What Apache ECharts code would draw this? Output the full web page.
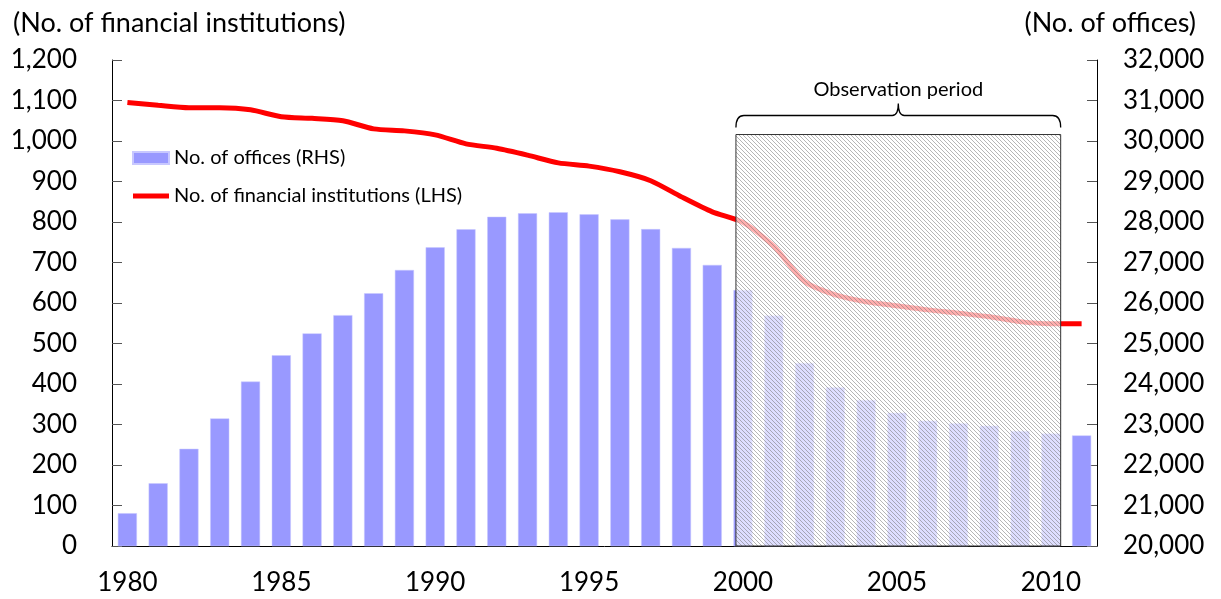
<!DOCTYPE html>
<html>
<head>
<meta charset="utf-8">
<script src="https://cdn.jsdelivr.net/npm/echarts@6/dist/echarts.min.js"></script>
<style>
html,body{margin:0;padding:0;background:#fff;}
#chart{width:1221px;height:599px;}
</style>
</head>
<body>
<div id="chart"></div>
<script>
// ---- data ----
var years = ['1980','1981','1982','1983','1984','1985','1986','1987','1988','1989',
             '1990','1991','1992','1993','1994','1995','1996','1997','1998','1999',
             '2000','2001','2002','2003','2004','2005','2006','2007','2008','2009',
             '2010','2011'];
var offices = [20810, 21550, 22400, 23150, 24060, 24710, 25250, 25700, 26240, 26815,
               27375, 27820, 28130, 28215, 28240, 28190, 28065, 27825, 27360, 26940,
               26320, 25690, 24520, 23920, 23605, 23290, 23095, 23030, 22970, 22840,
               22780, 22730];
var institutions = [1095, 1088, 1082, 1082, 1077, 1060, 1056, 1050, 1030, 1025,
                    1015, 993, 982, 965, 946, 938, 924, 902, 862, 825,
                    799, 740, 653, 620, 603, 593, 583, 575, 566, 554,
                    549, 549];
var leftTicks = {min: 0, max: 1200, interval: 100};
var rightTicks = {min: 20000, max: 32000, interval: 1000};
var observation = [[1999.77, 2010.32, 1016]]; // start, end (year position), top (LHS)
var obsLabel = 'Observation period';

// ---- pattern for hatched overlay ----
function makePattern() {
  var c = document.createElement('canvas');
  c.width = 4; c.height = 4;
  var g = c.getContext('2d');
  g.fillStyle = 'rgba(255,255,255,0.68)';
  g.fillRect(0, 0, 4, 4);
  g.strokeStyle = 'rgba(110,110,110,0.5)';
  g.lineWidth = 1;
  g.beginPath();
  g.moveTo(-1, -1); g.lineTo(5, 5);
  g.moveTo(-1, 3); g.lineTo(1, 5);
  g.moveTo(3, -1); g.lineTo(5, 1);
  g.stroke();
  return c;
}
var pattern = makePattern();

var FONT = 'Lato';
var chart = echarts.init(document.getElementById('chart'), null, {renderer: 'canvas'});
var fmt = function (v) { return Number(v).toLocaleString('en-US'); };

chart.setOption({
  animation: false,
  backgroundColor: '#fff',
  textStyle: {fontFamily: FONT, color: '#000'},
  title: [
    {text: '(No. of financial institutions)', left: 8, top: 5,
     textStyle: {fontFamily: FONT, fontSize: 27, fontWeight: 'normal', color: '#000'}},
    {text: '(No. of offices)', right: 20, top: 5,
     textStyle: {fontFamily: FONT, fontSize: 27, fontWeight: 'normal', color: '#000'}}
  ],
  legend: {
    orient: 'vertical', left: 132, top: 146, padding: 0, itemWidth: 36, itemHeight: 12, itemGap: 14,
    textStyle: {fontFamily: FONT, fontSize: 20, color: '#000', lineHeight: 24},
    data: [
      {name: 'No. of offices (RHS)', icon: 'rect'},
      {name: 'No. of financial institutions (LHS)', icon: 'path://M0,0 L36,0 L36,5 L0,5 Z'}
    ]
  },
  grid: {left: 112, right: 124, top: 60, bottom: 53, containLabel: false},
  xAxis: [
    {
      type: 'category', data: years, boundaryGap: true,
      axisLine: {lineStyle: {color: '#000', width: 1}},
      axisTick: {inside: true, length: 10, interval: 0, lineStyle: {color: '#555'}},
      axisLabel: {interval: 4, margin: 24, fontFamily: FONT, fontSize: 26, color: '#000'},
      splitLine: {show: false}
    },
    {type: 'value', min: 1979.5, max: 2011.5, show: false}
  ],
  yAxis: [
    {
      type: 'value', min: leftTicks.min, max: leftTicks.max, interval: leftTicks.interval,
      axisLine: {show: true, lineStyle: {color: '#000'}},
      axisTick: {show: true, inside: true, length: 10, lineStyle: {color: '#555'}},
      axisLabel: {margin: 35, fontFamily: FONT, fontSize: 26, color: '#000', formatter: fmt},
      splitLine: {show: false}
    },
    {
      type: 'value', min: rightTicks.min, max: rightTicks.max, interval: rightTicks.interval,
      axisLine: {show: true, lineStyle: {color: '#000'}},
      axisTick: {show: true, inside: true, length: 10, lineStyle: {color: '#555'}},
      axisLabel: {margin: 26, fontFamily: FONT, fontSize: 26, color: '#000', formatter: fmt},
      splitLine: {show: false}
    }
  ],
  series: [
    {
      name: 'No. of offices (RHS)', type: 'bar', xAxisIndex: 0, yAxisIndex: 1,
      data: offices, barCategoryGap: '38%',
      itemStyle: {color: '#9999ff', borderColor: '#c8c8ff', borderWidth: 0.5}, z: 2
    },
    {
      name: 'No. of financial institutions (LHS)', type: 'line', xAxisIndex: 0, yAxisIndex: 0,
      data: institutions, symbol: 'none', smooth: 0.25,
      lineStyle: {color: '#ff0000', width: 5}, itemStyle: {color: '#ff0000'}, z: 3
    },
    {
      name: 'obs', type: 'custom', xAxisIndex: 1, yAxisIndex: 0, z: 10,
      data: observation, silent: true,
      renderItem: function (params, api) {
        var p0 = api.coord([api.value(0), api.value(2)]);
        var p1 = api.coord([api.value(1), 0]);
        var x0 = p0[0], x1 = p1[0], yt = p0[1], yb = p1[1];
        var xm = (x0 + x1) / 2;
        var yh = yt - 19, ye = yt - 7, ytip = yt - 31;
        var path = 'M' + x0 + ',' + ye +
          ' Q' + x0 + ',' + yh + ' ' + (x0 + 8) + ',' + yh +
          ' L' + (xm - 6) + ',' + yh +
          ' Q' + xm + ',' + yh + ' ' + xm + ',' + ytip +
          ' Q' + xm + ',' + yh + ' ' + (xm + 6) + ',' + yh +
          ' L' + (x1 - 8) + ',' + yh +
          ' Q' + x1 + ',' + yh + ' ' + x1 + ',' + ye;
        return {
          type: 'group',
          children: [
            {type: 'rect', shape: {x: x0, y: yt, width: x1 - x0, height: yb - yt},
             style: {fill: {image: pattern, repeat: 'repeat'}, stroke: '#333', lineWidth: 1}},
            {type: 'path', shape: {pathData: path},
             style: {fill: null, stroke: '#000', lineWidth: 1.3}},
            {type: 'text', x: xm, y: ytip - 14,
             style: {text: obsLabel, fontFamily: FONT, fontSize: 20, fill: '#000',
                     align: 'center', verticalAlign: 'middle'}}
          ]
        };
      }
    }
  ]
});
</script>
</body>
</html>
